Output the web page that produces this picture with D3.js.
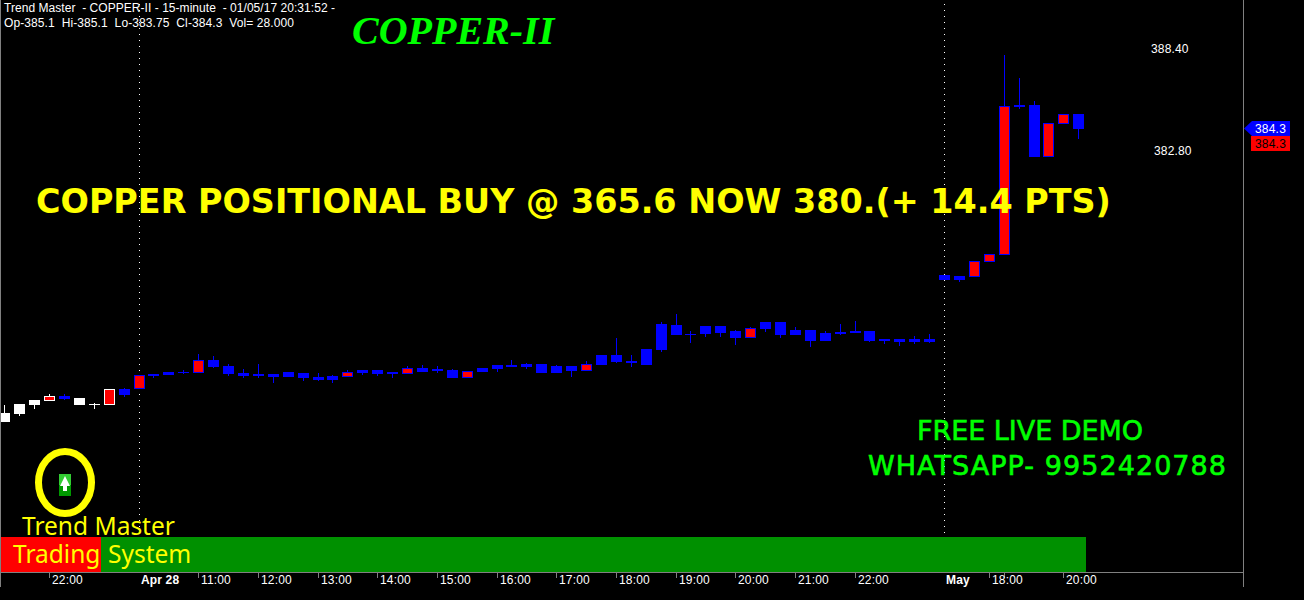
<!DOCTYPE html>
<html><head><meta charset="utf-8">
<script src="https://cdn.jsdelivr.net/npm/d3@7/dist/d3.min.js"></script>
<style>html,body{margin:0;padding:0;background:#000;overflow:hidden}svg{display:block}text{white-space:pre}</style>
</head><body><svg id="c" width="1304" height="600"></svg>
<script>
const opens=[368.71,369.20,369.42,369.37,369.64,369.53,369.20,369.15,370.02,370.02,370.85,370.96,370.96,370.90,371.62,371.29,370.90,370.85,370.85,370.96,370.90,370.68,370.74,370.68,371.07,371.07,370.96,370.85,371.18,371.12,371.07,370.63,371.18,371.34,371.34,371.40,371.40,371.29,371.29,371.01,371.89,371.89,371.56,372.22,373.59,373.54,373.04,373.48,373.48,373.21,372.82,373.70,373.70,373.26,373.26,373.10,373.15,373.21,373.21,372.77,372.77,372.77,372.77,376.28,376.23,376.17,377.00,377.38,385.62,385.62,382.76,384.58,385.10];
const highs=[369.15,369.20,369.42,369.75,369.75,369.53,369.26,370.02,370.08,370.79,370.85,370.96,371.07,371.95,371.84,371.40,371.12,371.40,370.85,370.96,370.90,370.90,370.79,371.07,371.07,371.07,370.96,371.29,371.34,371.29,371.12,371.01,371.18,371.34,371.62,371.45,371.40,371.34,371.29,371.56,371.89,372.82,371.89,372.22,373.70,374.14,373.21,373.48,373.48,373.26,373.43,373.70,373.70,373.43,373.26,373.21,373.59,373.76,373.21,372.77,372.77,372.93,373.04,376.28,376.23,377.05,377.44,388.36,387.10,385.84,384.63,385.12,385.10];
const lows=[368.21,368.54,368.93,369.37,369.42,369.15,368.93,369.15,369.58,370.02,370.63,370.79,370.85,370.90,371.18,370.74,370.63,370.63,370.35,370.68,370.46,370.46,370.35,370.68,370.79,370.74,370.63,370.85,370.96,370.90,370.63,370.63,370.96,370.96,371.23,371.12,370.90,370.90,370.68,371.01,371.34,371.45,371.23,371.34,372.06,372.99,372.55,372.88,372.88,372.44,372.82,373.15,372.82,372.99,372.33,372.66,372.99,373.10,372.60,372.49,372.38,372.49,372.55,376.01,375.90,376.17,377.00,377.38,385.40,382.76,382.76,384.58,383.75];
const closes=[368.21,368.65,369.15,369.64,369.47,369.15,369.15,370.02,369.69,370.79,370.74,370.79,370.90,371.62,371.23,370.85,370.74,370.74,370.68,370.68,370.63,370.52,370.52,370.96,370.90,370.85,370.85,371.18,370.96,371.01,370.63,371.01,370.96,371.12,371.23,371.23,370.90,370.90,371.01,371.40,371.34,371.51,371.45,371.34,372.17,372.99,372.99,373.04,373.10,372.82,373.37,373.32,372.99,372.99,372.66,372.66,373.04,373.10,372.66,372.66,372.60,372.60,372.60,376.01,376.01,377.05,377.44,385.56,385.51,382.76,384.63,385.12,384.30];
const trendColors=["#ffffff","#ffffff","#ffffff","#ffffff","#0000ff","#ffffff","#ffffff","#ffffff"];
const defaultTrend="#0000ff";
const priceTicks=[388.40,382.80];
const priceTickStart=[1151,1154];
const timeTicks=[3,13,17,21,25,29,33,37,41,45,49,53,57,66,67,71];
const timeLabels=[[3,"22:00",0],[9,"Apr 28",1],[13,"11:00",0],[17,"12:00",0],[21,"13:00",0],[25,"14:00",0],[29,"15:00",0],[33,"16:00",0],[37,"17:00",0],[41,"18:00",0],[45,"19:00",0],[49,"20:00",0],[53,"21:00",0],[57,"22:00",0],[63,"May",1],[66,"18:00",0],[71,"20:00",0]];
const sessionBreaks=[9,63];
const headerLines=["Trend Master  - COPPER-II - 15-minute  - 01/05/17 20:31:52 -","Op-385.1  Hi-385.1  Lo-383.75  Cl-384.3  Vol= 28.000"];
const headerWidths=[331,290];
const lastPrice=384.3;

const svg=d3.select("#c");
const x=d3.scaleLinear().domain([0,72]).range([4.3,1078.3]);
const y=d3.scaleLinear().domain([388.4,382.8]).range([54.3,156.3]);
const px=v=>Math.round(x(v));
const py=v=>Math.round(y(v));
const sans="'Liberation Sans',Arial,sans-serif";

svg.append("g").selectAll("line").data(sessionBreaks).join("line")
 .attr("x1",d=>px(d)+.5).attr("x2",d=>px(d)+.5).attr("y1",4).attr("y2",537)
 .attr("stroke","#fff").attr("stroke-width",1).attr("stroke-dasharray","1 5");

const idx=d3.range(opens.length);
const col=i=>i<trendColors.length?trendColors[i]:defaultTrend;
const bodyTop=i=>py(Math.max(opens[i],closes[i]));
const bodyBot=i=>py(Math.min(opens[i],closes[i]));
const gc=svg.append("g");
gc.append("g").selectAll("line").data(idx).join("line")
 .attr("x1",i=>px(i)+.5).attr("x2",i=>px(i)+.5).attr("y1",i=>py(highs[i])).attr("y2",i=>py(lows[i]))
 .attr("stroke",col).attr("stroke-width",1);
gc.append("g").selectAll("rect").data(idx).join("rect")
 .attr("x",i=>px(i)-5).attr("width",11)
 .attr("y",bodyTop).attr("height",i=>Math.max(1,bodyBot(i)-bodyTop(i)))
 .attr("fill",col);
gc.append("g").selectAll("rect").data(idx.filter(i=>closes[i]>opens[i])).join("rect")
 .attr("x",i=>px(i)-4).attr("width",9)
 .attr("y",i=>bodyTop(i)+1).attr("height",i=>Math.max(0,bodyBot(i)-bodyTop(i)-2))
 .attr("fill","#ff0000");

svg.append("text").attr("x",36).attr("y",213).attr("fill","#ffff00")
 .attr("font-family","'DejaVu Sans',Verdana,sans-serif").attr("font-weight","bold").attr("font-size",33.4)
 .text("COPPER POSITIONAL BUY @ 365.6 NOW 380.(+ 14.4 PTS)");

svg.append("g").selectAll("text").data(headerLines).join("text")
 .attr("x",4).attr("y",(d,i)=>12+i*15).attr("fill","#fff").attr("font-family",sans).attr("font-size",12)
 .attr("textLength",(d,i)=>headerWidths[i]).attr("lengthAdjust","spacing").text(d=>d);
svg.append("text").attr("x",352).attr("y",44).attr("fill","#00ff00").attr("font-family","'Liberation Serif',serif")
 .attr("font-style","italic").attr("font-weight","bold").attr("font-size",40).text("COPPER-II");
svg.append("g").selectAll("text").data(["FREE LIVE DEMO","WHATSAPP- 9952420788"]).join("text")
 .attr("x",(d,i)=>[917,868][i]).attr("y",(d,i)=>[440,475][i]).attr("fill","#00ff00").attr("stroke","#00ff00").attr("stroke-width",0.6)
 .attr("font-family","'DejaVu Sans',sans-serif").attr("font-size",27)
 .attr("textLength",(d,i)=>[226,358][i]).attr("lengthAdjust","spacing").text(d=>d);

svg.append("rect").attr("x",1).attr("y",537).attr("width",100).attr("height",35).attr("fill","#ff0000");
svg.append("rect").attr("x",101).attr("y",537).attr("width",985).attr("height",35).attr("fill","#009000");
const tah="'Noto Sans','Open Sans',sans-serif";
svg.append("text").attr("x",22).attr("y",535).attr("fill","#ffff00").attr("font-family",tah).attr("font-size",24.5).text("Trend Master");
svg.append("text").attr("x",13).attr("y",563).attr("fill","#ffff00").attr("font-family",tah).attr("font-size",24.5).text("Trading");
svg.append("text").attr("x",108).attr("y",563).attr("fill","#ffff00").attr("font-family",tah).attr("font-size",24.5).text("System");

svg.append("ellipse").attr("cx",65).attr("cy",482.5).attr("rx",26.5).attr("ry",31).attr("fill","none").attr("stroke","#ffff00").attr("stroke-width",7);
svg.append("rect").attr("x",59).attr("y",474).attr("width",12).attr("height",22).attr("fill","#009900");
svg.append("rect").attr("x",59).attr("y",474).attr("width",12).attr("height",11).attr("fill","#33cc33");
svg.append("path").attr("d","M65 476L70 486H67V491H63V486H60Z").attr("fill","#fff");

svg.append("rect").attr("x",0).attr("y",0).attr("width",1).attr("height",587).attr("fill","#808080");
svg.append("rect").attr("x",1243).attr("y",0).attr("width",1).attr("height",587).attr("fill","#808080");
svg.append("rect").attr("x",0).attr("y",572).attr("width",1244).attr("height",1).attr("fill","#808080");
svg.append("g").selectAll("line").data(timeTicks).join("line")
 .attr("x1",d=>px(d)+.5).attr("x2",d=>px(d)+.5).attr("y1",573).attr("y2",578).attr("stroke","#808080");
svg.append("g").selectAll("text").data(timeLabels).join("text")
 .attr("x",d=>px(d[0])+(d[2]?2:3)).attr("y",584).attr("fill","#fff").attr("font-family",sans).attr("font-size",12)
 .attr("letter-spacing",.15).attr("font-weight",d=>d[2]?"bold":"normal").text(d=>d[1]);
svg.append("g").selectAll("text").data(priceTicks).join("text")
 .attr("x",(d,i)=>priceTickStart[i]).attr("y",d=>y(d)-1.3).attr("fill","#fff").attr("font-family",sans).attr("font-size",12)
 .attr("letter-spacing",.15).text(d=>d.toFixed(2));

const ly=y(lastPrice);
svg.append("path").attr("d",`M1244 ${ly-.5}L1252 ${ly-8}H1290V${ly+7}H1252Z`).attr("fill","#0000ff");
svg.append("rect").attr("x",1251).attr("y",ly+7).attr("width",39).attr("height",15).attr("fill","#ff0000");
svg.append("text").attr("x",1255).attr("y",ly+4).attr("fill","#fff").attr("font-family",sans).attr("font-size",12).attr("letter-spacing",.2).text(lastPrice.toFixed(1));
svg.append("text").attr("x",1255).attr("y",ly+19).attr("fill","#000").attr("font-family",sans).attr("font-size",12).attr("letter-spacing",.2).text(lastPrice.toFixed(1));
</script></body></html>
